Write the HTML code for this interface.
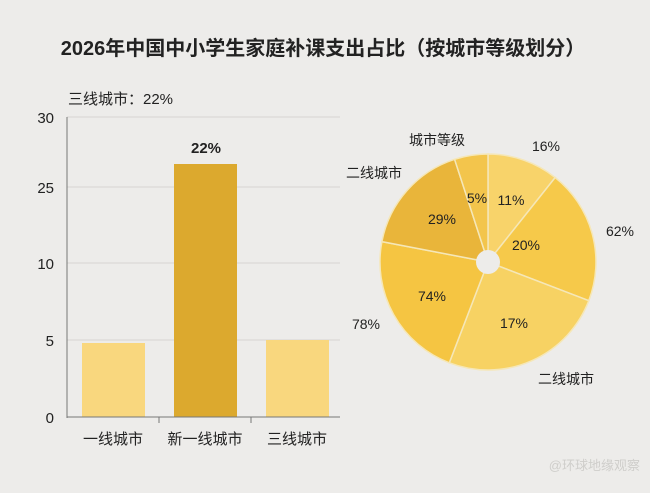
<!DOCTYPE html>
<html><head><meta charset="utf-8"><style>
body{margin:0;width:650px;height:488px;background:#edecea;overflow:hidden}
svg text{font-family:"Liberation Sans","Noto Sans CJK SC",sans-serif;fill:#222}
</style></head><body>
<svg width="650" height="488" viewBox="0 0 650 488">
<text x="323" y="55" font-size="20" font-weight="bold" text-anchor="middle">2026年中国中小学生家庭补课支出占比（按城市等级划分）</text>
<text x="68" y="104" font-size="15">三线城市：22%</text>
<g stroke="#d6d5d2" stroke-width="1">
<line x1="67" y1="117" x2="340" y2="117"/><line x1="67" y1="187" x2="340" y2="187"/>
<line x1="67" y1="263" x2="340" y2="263"/><line x1="67" y1="340" x2="340" y2="340"/>
</g>
<g font-size="15" text-anchor="end">
<text x="54" y="123">30</text><text x="54" y="193">25</text><text x="54" y="269">10</text>
<text x="54" y="346">5</text><text x="54" y="423">0</text></g>
<rect x="82" y="343" width="63" height="74" fill="#f9d77e"/>
<rect x="174" y="164" width="63" height="253" fill="#dca92e"/>
<rect x="266" y="340" width="63" height="77" fill="#f9d77e"/>
<line x1="67" y1="117" x2="67" y2="418" stroke="#777"/>
<line x1="67" y1="417" x2="340" y2="417" stroke="#777"/>
<line x1="159" y1="417" x2="159" y2="423" stroke="#777"/><line x1="251" y1="417" x2="251" y2="423" stroke="#777"/>
<text x="206" y="153" font-size="15" font-weight="bold" text-anchor="middle">22%</text>
<g font-size="15" text-anchor="middle">
<text x="113" y="444">一线城市</text><text x="205" y="444">新一线城市</text><text x="297" y="444">三线城市</text></g>
<g stroke="#f5e7b8" stroke-width="1.5" transform="translate(488,262)">
<path d="M0,0 L0,-108 A108,108 0 0 1 67.2,-84.5 Z" fill="#f8d36a"/>
<path d="M0,0 L67.2,-84.5 A108,108 0 0 1 100.8,38.7 Z" fill="#f6c94a"/>
<path d="M0,0 L100.8,38.7 A108,108 0 0 1 -38.7,100.8 Z" fill="#f7d263"/>
<path d="M0,0 L-38.7,100.8 A108,108 0 0 1 -106.1,-20.4 Z" fill="#f5c542"/>
<path d="M0,0 L-106.1,-20.4 A108,108 0 0 1 -33.4,-102.7 Z" fill="#e9b53a"/>
<path d="M0,0 L-33.4,-102.7 A108,108 0 0 1 0,-108 Z" fill="#f3c54c"/>
<circle r="12" fill="#edecea" stroke="none"/>
</g>
<g font-size="14" text-anchor="middle" fill="#333">
<text x="477" y="203">5%</text><text x="511" y="205">11%</text><text x="442" y="224">29%</text>
<text x="526" y="250">20%</text><text x="432" y="301">74%</text><text x="514" y="328">17%</text>
<text x="546" y="151">16%</text><text x="620" y="236">62%</text><text x="366" y="329">78%</text>
<text x="437" y="145">城市等级</text><text x="374" y="178">二线城市</text><text x="566" y="384">二线城市</text>
</g>
<text x="640" y="470" font-size="13" text-anchor="end" style="fill:#cfcecb">@环球地缘观察</text>
</svg>
</body></html>
